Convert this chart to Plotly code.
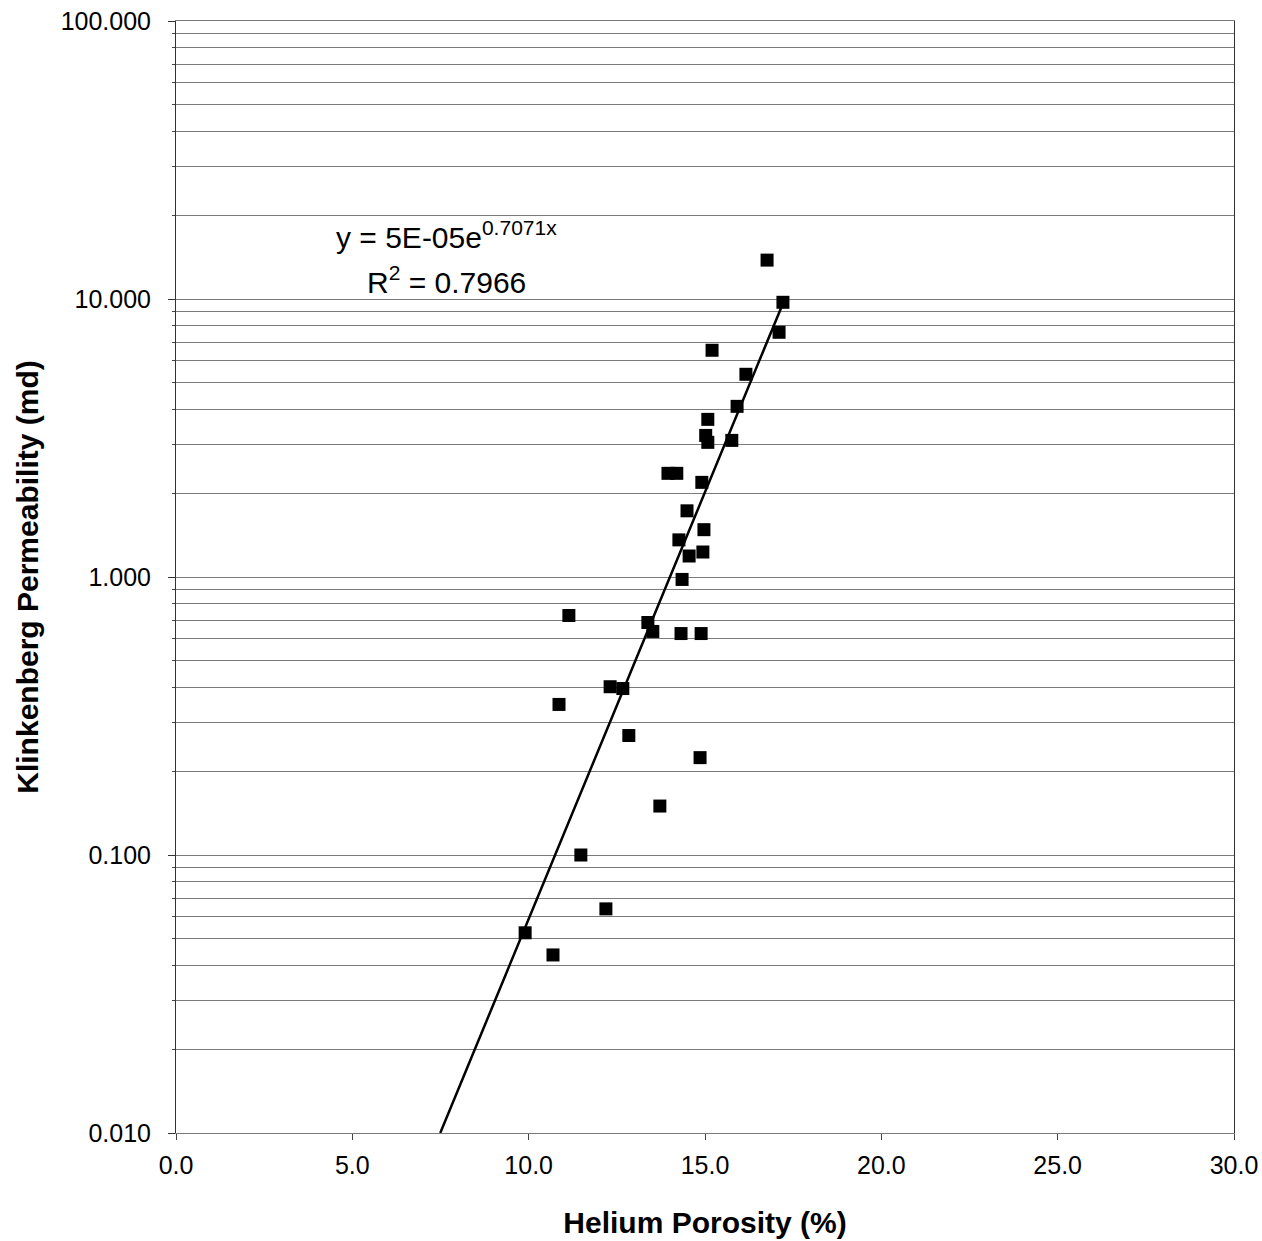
import numpy as np
import plotly.graph_objects as go

# Helium porosity (%) and Klinkenberg permeability (md)
porosity = [16.76, 17.21, 17.10, 15.20, 16.16, 15.91, 15.08, 15.02, 15.08, 15.76,
            13.95, 14.20, 14.91, 14.49, 14.26, 14.97, 14.55, 14.94, 14.35, 11.14,
            13.38, 13.52, 14.32, 14.89, 12.31, 12.67, 10.86, 12.84, 14.86, 13.72,
            11.48, 12.19, 9.90, 10.69]
permeability = [13.8, 9.73, 7.59, 6.54, 5.36, 4.11, 3.69, 3.23, 3.05, 3.10,
                2.36, 2.36, 2.19, 1.73, 1.36, 1.48, 1.19, 1.23, 0.98, 0.727,
                0.686, 0.637, 0.626, 0.626, 0.403, 0.397, 0.348, 0.269, 0.224, 0.150,
                0.100, 0.064, 0.0525, 0.0437]

# Trendline coefficients shown on the chart: y = a * exp(b * x)
trend_a = 5e-05
trend_b = 0.7071
r_squared = 0.7966

y_tick_vals = [0.01, 0.1, 1, 10, 100]
y_tick_text = ["0.010", "0.100", "1.000", "10.000", "100.000"]
y_minor_vals = [m * d for d in [0.01, 0.1, 1, 10] for m in range(2, 10)]
x_tick_vals = [0, 5, 10, 15, 20, 25, 30]
x_tick_text = ["0.0", "5.0", "10.0", "15.0", "20.0", "25.0", "30.0"]

x_start = np.log(0.01 / trend_a) / trend_b
x_end = max(porosity)
tx = np.linspace(x_start, x_end, 200)
ty = trend_a * np.exp(trend_b * tx)

FONT = "Liberation Sans, Arial, sans-serif"
GRID = "#7a7a7a"

fig = go.Figure()
fig.add_trace(go.Scatter(x=tx, y=ty, mode="lines",
                         line=dict(color="black", width=2.5), hoverinfo="skip"))
fig.add_trace(go.Scatter(x=porosity, y=permeability, mode="markers",
                         marker=dict(symbol="square", size=13, color="black")))

fig.update_layout(
    width=1262, height=1241,
    margin=dict(l=176, r=28, t=21, b=108),
    paper_bgcolor="white", plot_bgcolor="white",
    showlegend=False,
    font=dict(family=FONT, color="black"),
)
fig.update_xaxes(
    range=[0, 30], tickmode="array", tickvals=x_tick_vals, ticktext=x_tick_text,
    showgrid=False, zeroline=False, automargin=False,
    showline=True, linecolor=GRID, linewidth=1, mirror=True,
    ticks="outside", ticklen=6, tickcolor="#444", ticklabelstandoff=4,
    tickfont=dict(size=25, family=FONT),
    title=dict(text="<b>Helium Porosity (%)</b>", font=dict(size=30, family=FONT), standoff=33),
)
fig.update_yaxes(
    type="log", range=[-2, 2], tickmode="array", tickvals=y_tick_vals, ticktext=y_tick_text,
    showgrid=True, gridcolor=GRID, gridwidth=1, automargin=False,
    minor=dict(tickmode="array", tickvals=y_minor_vals, showgrid=True,
               gridcolor=GRID, gridwidth=1, ticks="outside", ticklen=3, tickcolor="#444"),
    zeroline=False,
    showline=True, linecolor="#333", linewidth=1, mirror=True,
    ticks="outside", ticklen=7, tickcolor="#333", ticklabelstandoff=12,
    tickfont=dict(size=25, family=FONT),
    title=dict(text="<b>Klinkenberg Permeability (md)</b>", font=dict(size=30, family=FONT), standoff=13),
)

fig.add_annotation(x=7.66, y=np.log10(17.0), xref="x", yref="y",
                   text="y = 5E-05e<sup>%.4fx</sup>" % trend_b, showarrow=False,
                   font=dict(size=30, family=FONT), xanchor="center", yanchor="middle")
fig.add_annotation(x=7.67, y=np.log10(11.7), xref="x", yref="y",
                   text="R<sup>2</sup> = %.4f" % r_squared, showarrow=False,
                   font=dict(size=30, family=FONT), xanchor="center", yanchor="middle")

fig.write_html("out.html", config={"displayModeBar": False},
               post_script="document.body.style.margin='0';document.body.style.overflow='hidden';")
